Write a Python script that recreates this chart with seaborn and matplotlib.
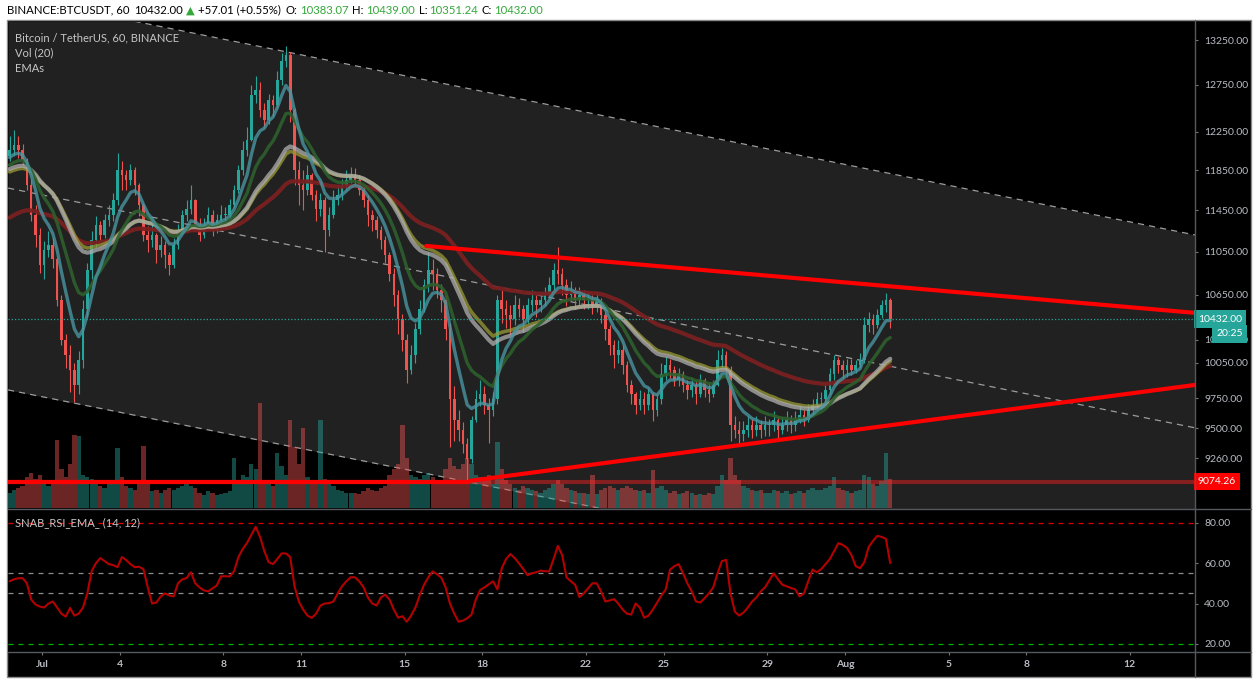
"""
BTCUSDT chart, Jun 29 - Aug 2 2019, 4h candles read off the TradingView screenshot
"""
import numpy as np
import pandas as pd
import seaborn as sns
import matplotlib.pyplot as plt
import matplotlib.dates as mdates
import matplotlib.transforms as mtransforms
from matplotlib.ticker import FixedLocator, FuncFormatter, NullLocator
from matplotlib.lines import Line2D
from matplotlib.patches import Rectangle

W, H = 1259, 687

# ---- data (4h bars, first bar Jun 29 16:00) ----
start_time = "2019-06-29 16:00"
first_open = 12000

closes = [
    12060, 12110,
    12060, 11960, 11700, 11410, 11210, 10930,   # Jun 30
    11070, 11120, 10980, 10600, 10250, 10120,   # Jul 1
    9990, 9860, 10070, 10520, 10880, 11160,
    11310, 11210, 11360, 11410, 11550, 11850,
    11800, 11750, 11850, 11700, 11500, 11210,
    11160, 11210, 11070, 11120, 11020, 10930,   # Jul 5
    11120, 11260, 11410, 11460, 11550, 11310,
    11210, 11310, 11410, 11260, 11360, 11410,
    11410, 11500, 11650, 11850, 12060, 12160,
    12640, 12700, 12480, 12370, 12590, 12530,
    12800, 13020, 13080, 12480, 11850, 11700,   # Jul 10
    11650, 11800, 11600, 11460, 11550, 11260,
    11410, 11550, 11600, 11700, 11750, 11800,
    11750, 11650, 11550, 11410, 11360, 11260,
    11160, 11020, 10840, 10650, 10430, 10250,
    9990, 10120, 10340, 10520, 10740, 10880,    # Jul 15
    10840, 10700, 10600, 10340, 9740, 9570,
    9490, 9370, 9250, 9570, 9740, 9780,
    9690, 9650, 9740, 10600, 10520, 10470,
    10430, 10560, 10520, 10430, 10560, 10600,
    10560, 10600, 10650, 10740, 10880, 10840,   # Jul 20
    10740, 10650, 10700, 10600, 10650, 10600,
    10600, 10560, 10600, 10470, 10340, 10200,
    10120, 10160, 10030, 9860, 9780, 9690,
    9740, 9690, 9780, 9650, 9740, 9950,
    10030, 9990, 9900, 9950, 9860, 9820,        # Jul 25
    9860, 9780, 9900, 9820, 9780, 9860,
    10070, 10120, 9990, 9530, 9490, 9450,
    9490, 9530, 9490, 9530, 9490, 9530,
    9530, 9570, 9490, 9530, 9570, 9530,
    9570, 9610, 9570, 9650, 9690, 9740,         # Jul 30
    9740, 9820, 9950, 10070, 10030, 9990,
    10030, 9990, 10030, 10070, 10380, 10430,    # Aug 1
    10380, 10470, 10560, 10600, 10432,
]

highs = [
    12200, 12270,
    12200, 12120, 11980, 11760, 11500, 11280,
    11150, 11250, 11180, 11000, 10650, 10300,
    10200, 10050, 10150, 10600, 10950, 11250,
    11400, 11350, 11420, 11500, 11620, 12030,
    11950, 11850, 11920, 11880, 11720, 11520,
    11300, 11320, 11230, 11200, 11150, 11050,
    11180, 11320, 11450, 11550, 11700, 11560,
    11380, 11380, 11480, 11450, 11420, 11500,
    11480, 11560, 11700, 11900, 12150, 12300,
    12750, 12850, 12780, 12550, 12650, 12640,
    12900, 13100, 13180, 13120, 12500, 11950,
    11850, 11900, 11820, 11650, 11620, 11580,
    11480, 11650, 11700, 11760, 11850, 11880,
    11870, 11800, 11700, 11600, 11450, 11400,
    11300, 11200, 11050, 10900, 10700, 10480,
    10300, 10200, 10400, 10600, 10800, 11050,
    10980, 10900, 10750, 10650, 10400, 9850,
    9650, 9550, 9420, 9600, 9820, 9900,
    9850, 9750, 9800, 10650, 10700, 10600,
    10560, 10650, 10620, 10560, 10620, 10700,
    10650, 10680, 10720, 10820, 10950, 11100,
    10900, 10800, 10780, 10720, 10720, 10700,
    10680, 10650, 10680, 10620, 10500, 10380,
    10250, 10250, 10200, 10060, 9900, 9800,
    9820, 9800, 9830, 9800, 9780, 10050,
    10100, 10080, 10020, 10000, 9980, 9900,
    9920, 9900, 9950, 9920, 9880, 9900,
    10160, 10180, 10150, 10020, 9600, 9560,
    9560, 9600, 9580, 9600, 9570, 9600,
    9580, 9640, 9600, 9590, 9640, 9610,
    9640, 9680, 9650, 9700, 9740, 9800,
    9800, 9880, 10000, 10120, 10100, 10070,
    10080, 10080, 10070, 10130, 10450, 10500,
    10480, 10520, 10600, 10670, 10620,
]

lows = [
    11950, 12000,
    11980, 11900, 11650, 11350, 11100, 10850,
    10800, 11000, 10900, 10550, 10200, 10000,
    9800, 9720, 9780, 10000, 10450, 10800,
    11100, 11150, 11180, 11300, 11350, 11500,
    11650, 11650, 11700, 11600, 11400, 11150,
    11050, 11100, 10950, 11000, 10900, 10830,
    10900, 11080, 11220, 11350, 11420, 11250,
    11150, 11180, 11280, 11200, 11230, 11300,
    11330, 11360, 11480, 11620, 11800, 12000,
    12150, 12550, 12400, 12300, 12330, 12420,
    12500, 12750, 12950, 12350, 11700, 11500,
    11450, 11600, 11550, 11350, 11400, 11050,
    11200, 11380, 11500, 11550, 11650, 11720,
    11680, 11600, 11480, 11300, 11250, 11180,
    11080, 10950, 10780, 10550, 10300, 10150,
    9880, 9950, 10050, 10300, 10500, 10680,
    10700, 10620, 10500, 10250, 9350, 9400,
    9400, 9300, 9080, 9220, 9550, 9680,
    9620, 9380, 9600, 9700, 10400, 10350,
    10300, 10380, 10450, 10320, 10400, 10500,
    10450, 10500, 10550, 10620, 10700, 10750,
    10650, 10550, 10600, 10520, 10560, 10520,
    10520, 10480, 10500, 10400, 10250, 10120,
    10000, 10050, 9950, 9800, 9700, 9620,
    9650, 9620, 9650, 9560, 9600, 9700,
    9900, 9920, 9850, 9850, 9800, 9740,
    9760, 9700, 9760, 9760, 9720, 9760,
    9850, 10000, 9950, 9400, 9420, 9380,
    9400, 9430, 9420, 9440, 9420, 9440,
    9440, 9480, 9420, 9450, 9480, 9460,
    9480, 9540, 9520, 9550, 9620, 9650,
    9660, 9700, 9780, 9900, 9960, 9920,
    9930, 9940, 9960, 10000, 10050, 10320,
    10300, 10350, 10440, 10500, 10351,
]

# volume, thousand BTC per bar
volumes = [
    14, 16,
    18, 20, 28, 32, 26, 30,
    25, 20, 22, 62, 35, 28,
    40, 66, 65, 30, 28, 26,
    22, 20, 18, 22, 25, 54,
    28, 20, 18, 16, 22, 56,
    22, 15, 16, 14, 16, 18,
    16, 18, 20, 22, 20, 18,
    14, 12, 15, 14, 12, 13,
    14, 15, 45, 24, 30, 28,
    40, 35, 95, 24, 22, 20,
    50, 38, 30, 80, 55, 40,
    72, 28, 24, 22, 80, 26,
    22, 20, 16, 15, 14, 14,
    14, 13, 15, 18, 16, 15,
    18, 20, 30, 35, 40, 75,
    45, 30, 28, 26, 30, 32,
    28, 24, 25, 35, 45, 38,
    35, 40, 45, 40, 30, 28,
    25, 30, 22, 60, 35, 25,
    22, 18, 16, 20, 18, 16,
    15, 14, 16, 18, 22, 25,
    22, 18, 16, 15, 14, 14,
    13, 30, 13, 16, 18, 20,
    18, 16, 18, 20, 18, 16,
    15, 16, 14, 34, 18, 20,
    16, 14, 15, 13, 14, 15,
    14, 12, 13, 12, 14, 13,
    20, 30, 25, 45, 30, 25,
    20, 18, 16, 15, 16, 14,
    14, 16, 15, 14, 15, 13,
    14, 15, 14, 16, 18, 16,
    16, 18, 20, 28, 18, 16,
    15, 14, 15, 16, 30, 28,
    22, 20, 24, 50, 26,
]

rsi_values = [
    51, 52,
    52.5, 52.6, 50, 42, 39.5, 38.5,
    38, 40, 41, 38, 35, 33.5,
    37.8, 34, 35, 38, 45, 56,
    60, 62.5, 61, 59.5, 59, 58,
    63, 61.5, 59.5, 58, 58.2, 57,
    48, 40, 40.5, 43.5, 45, 44,
    43.5, 50, 52, 52.6, 55.5, 50,
    48, 46.5, 46, 47.5, 49, 53.5,
    53.5, 53.4, 56, 63, 67, 70,
    74, 78, 73, 66, 60.5, 59.5,
    62, 64.8, 64.8, 63, 48.5, 41,
    37, 34, 32.9, 35, 39, 40,
    40.2, 41, 45, 48.5, 51, 53,
    53, 51, 48, 43, 40, 39,
    43, 44.4, 42, 37, 33, 33.7,
    31, 34, 38, 44, 49.3, 53,
    55.9, 54.5, 52.8, 48, 40, 35,
    31, 31.5, 32.7, 34.5, 42, 46.7,
    48, 49.5, 51, 47, 57.4, 62,
    64.5, 62.5, 59.9, 57, 54, 55,
    55.5, 56.3, 56, 55.9, 62, 68.5,
    64, 53, 51, 49.3, 43.2, 45,
    47.5, 50, 50, 46, 41, 41.5,
    42.2, 40, 37, 35, 34.5, 40,
    38, 33, 34, 37, 40.5, 44,
    47, 56.8, 58.5, 59.5, 55, 50,
    46, 41, 40.5, 42.7, 45, 48,
    55, 61, 61.6, 45, 36, 34,
    35.5, 38, 41, 43, 46, 48,
    51.5, 55, 52, 49.3, 48.5, 47.7,
    47, 43.5, 45, 51, 56.8, 55.5,
    57, 59.5, 62, 66, 69.9, 69,
    67.5, 64, 58.5, 57.5, 60.5, 68,
    71, 73.5, 73, 72, 60,
]

# EMA ribbon: spans in 4h bars and the values they start the window with
ema_spans = [7, 14, 28, 31, 60]
ema_seed = [11956, 11880, 11850, 11820, 11357]

# drawn lines (date, price)
channel_dates = ["2019-06-29 16:30", "2019-08-14 12:24"]
channel_top = [13763, 11212]
channel_mid = [11672, 9504]
channel_bot = [9818, 8011]
resist_dates = ["2019-07-15 20:00", "2019-08-14 12:24"]
resist_prices = [11107, 10488]
support_dates = ["2019-07-17 12:36", "2019-08-14 12:24"]
support_prices = [9082, 9860]
support_level = 9074.26
level_dates = ["2019-06-29 16:30", "2019-07-17 12:36"]
last_price = 10432.00

price_ticks = [9260, 9500, 9750, 10050, 10250, 10650, 11050, 11450, 11850, 12250, 12750, 13250]
rsi_ticks = [20, 40, 60, 80]
date_ticks = ["2019-07-01", "2019-07-04", "2019-07-08", "2019-07-11", "2019-07-15", "2019-07-18",
              "2019-07-22", "2019-07-25", "2019-07-29", "2019-08-01", "2019-08-05", "2019-08-08",
              "2019-08-12"]
date_labels = ["Jul", "4", "8", "11", "15", "18", "22", "25", "29", "Aug", "5", "8", "12"]

assert len(closes) == len(highs) == len(lows) == len(volumes) == len(rsi_values)

# ---- style ----
sns.set_theme(style="dark")
plt.rcParams['font.family'] = ['Lato', 'DejaVu Sans']

UP = '#26a69a'
DOWN = '#ef5350'
AXIS_TXT = '#b9bcc4'
SEP = '#55585f'
GREEN_TXT = '#34a83a'


def fx(px):
    return px / W


def fy(py):
    return 1 - py / H


c = np.array(closes, dtype=float)
o = np.r_[first_open, c[:-1]]
hi = np.maximum(np.array(highs, float), np.maximum(o, c))
lo = np.minimum(np.array(lows, float), np.minimum(o, c))
times = pd.date_range(start_time, periods=len(c), freq="4h")
xc = mdates.date2num(times + pd.Timedelta(hours=2))
up = c >= o


def ema(values, span, seed):
    a = 2.0 / (span + 1)
    out, e = [], seed
    for v in values:
        e = e + a * (v - e)
        out.append(e)
    return np.array(out)


fig = plt.figure(figsize=(W / 100, H / 100), dpi=100, facecolor='white')
fig.patches.append(Rectangle((fx(7), fy(677)), fx(1251) - fx(7), fy(20) - fy(677),
                             transform=fig.transFigure, facecolor='black',
                             edgecolor='#8a8a8a', lw=1, zorder=-5))

main_rect = [fx(8), fy(508), fx(1195) - fx(8), fy(22) - fy(508)]
rsi_rect = [fx(8), fy(652), fx(1195) - fx(8), fy(510) - fy(652)]

ax_bg = fig.add_axes(main_rect, label="bg")
ax_vol = fig.add_axes(main_rect, label="vol", sharex=ax_bg)
ax = fig.add_axes(main_rect, label="price", sharex=ax_bg)
ax_rsi = fig.add_axes(rsi_rect, label="rsi", sharex=ax_bg)

x0 = mdates.date2num(pd.Timestamp("2019-06-29 16:30"))
x1 = mdates.date2num(pd.Timestamp("2019-08-14 12:24"))
ylo, yhi = 8873, 13457

for a in (ax_bg, ax_vol, ax, ax_rsi):
    for s in a.spines.values():
        s.set_visible(False)
    a.grid(False)
ax_bg.set_facecolor('black')
ax_rsi.set_facecolor('black')
ax_vol.patch.set_visible(False)
ax.patch.set_visible(False)

for a in (ax_bg, ax):
    a.set_yscale('log')
    a.set_ylim(ylo, yhi)
ax_bg.set_xlim(x0, x1)

# channel
cd = mdates.date2num(pd.to_datetime(channel_dates))
ax_bg.fill_between(cd, channel_bot, channel_top, color='#212121', lw=0)
for line in (channel_top, channel_mid, channel_bot):
    ax_bg.plot(cd, line, color='#9c9c9c', lw=0.9, ls=(0, (5, 4)))
ax_bg.yaxis.set_minor_locator(NullLocator())
ax_bg.tick_params(which='both', left=False, right=False, bottom=False,
                  labelleft=False, labelright=False, labelbottom=False)

# volume
vol_cols = np.where(up, UP, DOWN)
ax_vol.bar(xc, volumes, width=0.165, color=vol_cols, alpha=0.45, lw=0)
ax_vol.set_ylim(0, 440)
ax_vol.tick_params(which='both', left=False, right=False, bottom=False,
                   labelleft=False, labelright=False, labelbottom=False)

# candles
cols = np.where(up, UP, DOWN)
ax.vlines(xc, lo, hi, colors=cols, lw=0.8, zorder=2)
body = np.maximum(np.abs(c - o), c * 0.0008)
ax.bar(xc, body, bottom=np.minimum(o, c), width=0.1, color=cols, lw=0, zorder=2)

# EMA ribbon
ema_styles = [('#4a95a0', 2.4, 0.8), ('#2d602d', 2.4, 0.9), ('#b0b0b0', 3.0, 0.75),
              ('#9a9a34', 2.6, 0.75), ('#7a2020', 3.0, 0.95)]
for i in [4, 3, 2, 1, 0]:
    col, lw, al = ema_styles[i]
    sns.lineplot(x=xc, y=ema(c, ema_spans[i], ema_seed[i]), ax=ax, color=col,
                 linewidth=lw, alpha=al, zorder=3)

# drawn lines
ax.axhline(support_level, color='#ff2020', lw=3, alpha=0.45, zorder=4)
ax.plot(mdates.date2num(pd.to_datetime(level_dates)), [support_level] * 2, color='#ff0000',
        lw=3, zorder=5, solid_capstyle='butt')
ax.plot(mdates.date2num(pd.to_datetime(resist_dates)), resist_prices, color='#ff0000', lw=3, zorder=5)
ax.plot(mdates.date2num(pd.to_datetime(support_dates)), support_prices, color='#ff0000', lw=3, zorder=5)
ax.axhline(last_price, color='#22a596', lw=0.9, ls=(0, (1, 1.6)), zorder=4)

ax.set_xlabel('')
ax.set_ylabel('')
ax.yaxis.tick_right()
ax.yaxis.set_major_locator(FixedLocator(price_ticks))
ax.yaxis.set_minor_locator(NullLocator())
ax.yaxis.set_major_formatter(FuncFormatter(lambda v, p: f"{v:.2f}"))
ax.tick_params(axis='y', which='both', right=True, left=False, labelright=True, labelleft=False,
               color='#777777', labelcolor=AXIS_TXT, labelsize=7.5, length=2.5, width=0.8, pad=4)
ax.tick_params(axis='x', which='both', bottom=False, labelbottom=False)

# price labels on the axis
blend = mtransforms.blended_transform_factory(ax.transAxes, ax.transData)
ax.text(1.0 + 3 / 1187, last_price, "10432.00", transform=blend, color='white', fontsize=7.5,
        va='center', ha='left', zorder=10, clip_on=False,
        bbox=dict(boxstyle='square,pad=0.4', fc='#26a69a', ec='none'))
ax.text(1.0 + 21 / 1187, 10300, "20:25", transform=blend, color='white', fontsize=7.5,
        va='center', ha='left', zorder=10, clip_on=False,
        bbox=dict(boxstyle='square,pad=0.4', fc='#26a69a', ec='none'))
ax.text(1.0 + 3 / 1187, support_level, "9074.26", transform=blend, color='white', fontsize=7.5,
        va='center', ha='left', zorder=10, clip_on=False,
        bbox=dict(boxstyle='square,pad=0.4', fc='#ff0000', ec='none'))

# legend lines in the pane
for txt, py in [("Bitcoin / TetherUS, 60, BINANCE", 38), ("Vol (20)", 53), ("EMAs", 69)]:
    fig.text(fx(15), fy(py), txt, color='#c6c6c6', fontsize=8, va='center', ha='left')

# RSI pane
ax_rsi.set_ylim(16.0, 86.3)
ax_rsi.axhline(80, color='#e00000', lw=0.9, ls=(0, (4, 4)))
ax_rsi.axhline(55, color='#8c8c8c', lw=0.9, ls=(0, (4, 4)))
ax_rsi.axhline(45, color='#8c8c8c', lw=0.9, ls=(0, (4, 4)))
ax_rsi.axhline(20, color='#00b000', lw=0.9, ls=(0, (4, 4)))
sns.lineplot(x=xc, y=rsi_values, ax=ax_rsi, color='#b40000', linewidth=1.5)
ax_rsi.set_xlabel('')
ax_rsi.set_ylabel('')
ax_rsi.yaxis.tick_right()
ax_rsi.yaxis.set_major_locator(FixedLocator(rsi_ticks))
ax_rsi.yaxis.set_major_formatter(FuncFormatter(lambda v, p: f"{v:.2f}"))
ax_rsi.tick_params(axis='y', right=True, left=False, labelright=True, labelleft=False,
                   color='#777777', labelcolor=AXIS_TXT, labelsize=7.5, length=2.5, width=0.8, pad=4)
ax_rsi.set_xticks(mdates.date2num(pd.to_datetime(date_ticks)))
ax_rsi.set_xticklabels(date_labels, fontweight='bold')
ax_rsi.tick_params(axis='x', bottom=True, labelbottom=True, color='#777777', labelcolor=AXIS_TXT,
                   labelsize=7.5, length=2.5, width=0.8, pad=3)
ax_rsi.set_xlim(x0, x1)
fig.text(fx(15), fy(523), "SNAB_RSI_EMA_ (14, 12)", color='#c6c6c6', fontsize=8, va='center', ha='left')

# pane separators
for xs, ys in [([8, 1251], [509, 509]), ([8, 1251], [652, 652]), ([1195, 1195], [20, 677])]:
    fig.add_artist(Line2D([fx(v) for v in xs], [fy(v) for v in ys], transform=fig.transFigure,
                          color=SEP, lw=1))

# header line
title_parts = [("BINANCE:BTCUSDT, 60", 'black', 5), ("10432.00", 'black', 3), ("\u25B2", GREEN_TXT, 3),
               ("+57.01 (+0.55%)", 'black', 5), ("O:", 'black', 2), ("10383.07", GREEN_TXT, 4),
               ("H:", 'black', 2), ("10439.00", GREEN_TXT, 4), ("L:", 'black', 2),
               ("10351.24", GREEN_TXT, 4), ("C:", 'black', 2), ("10432.00", GREEN_TXT, 4)]
renderer = fig.canvas.get_renderer()
px = 7
for txt, col, gap in title_parts:
    t = fig.text(fx(px), fy(10), txt, color=col, fontsize=8.2, va='center', ha='left')
    px += t.get_window_extent(renderer).width + gap

fig.savefig("out.png", dpi=100, facecolor='white')
plt.close(fig)
